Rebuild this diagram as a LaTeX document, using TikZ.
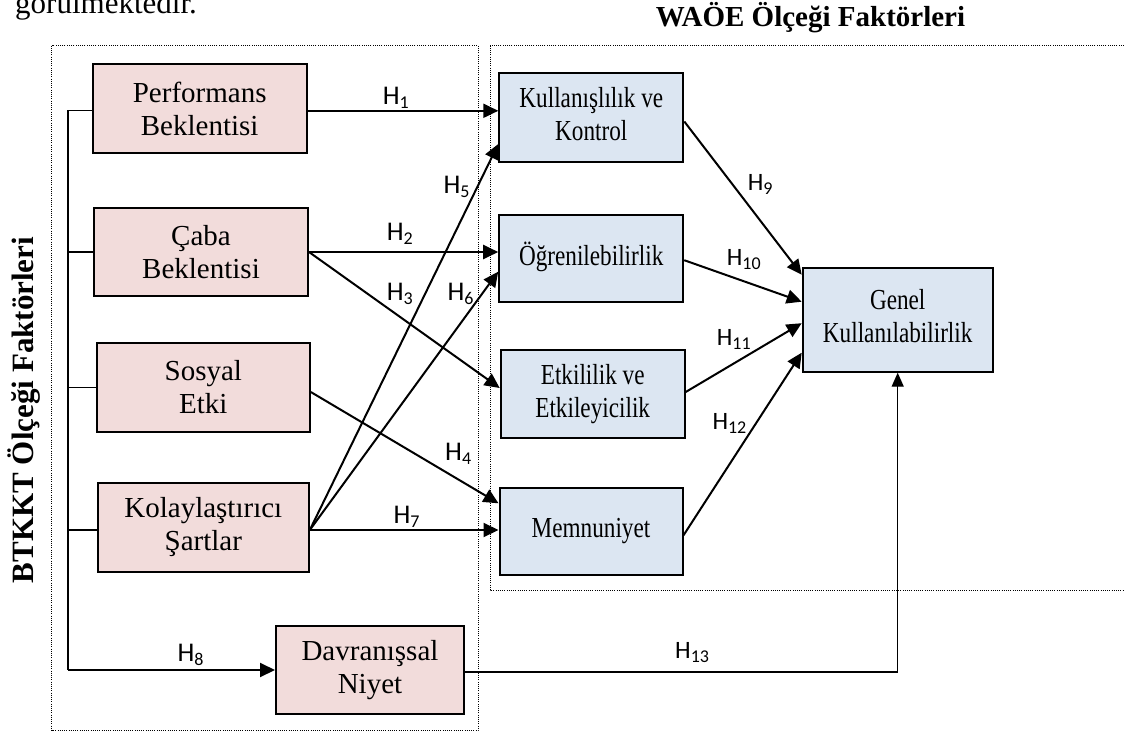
\documentclass[tikz,border=0pt]{standalone}
\usepackage{fontspec}
\usepackage{graphicx}
\setmainfont{Liberation Serif}
\newfontfamily\lblfont{Carlito}
\usetikzlibrary{arrows.meta}
\definecolor{pinkfill}{HTML}{F2DCDB}
\definecolor{bluefill}{HTML}{DCE6F2}
% hypothesis label H with a lowered index
\newcommand\hyp[1]{H\raisebox{-4pt}{\fontsize{18}{18}\selectfont #1}}
% horizontally condensed block of centred lines
\newcommand\cond[1]{\scalebox{0.8}[1]{\begin{tabular}{@{}c@{}}#1\end{tabular}}}
\begin{document}
\begin{tikzpicture}[x=1pt,y=-1pt,
  basebox/.style={draw, line width=2pt, inner sep=0pt, align=center,
    font=\fontsize{29}{33}\selectfont},
  lbox/.style={basebox, fill=pinkfill},
  rbox/.style={basebox, fill=bluefill},
  dotbox/.style={line width=1pt, dash pattern=on 1pt off 1.2pt},
  conn/.style={line width=2pt, -{Triangle[length=15pt,width=14pt]}},
  thinconn/.style={line width=1.4pt, -{Triangle[length=14pt,width=12pt]}},
  busline/.style={line width=1.4pt},
  lbl/.style={anchor=base west, inner sep=0pt, font=\lblfont\fontsize{27}{27}\selectfont},
  rlbl/.style={anchor=base west, inner sep=0pt, font=\lblfont\fontsize{25}{25}\selectfont}]
\useasboundingbox (0,0) rectangle (1124,733);

% running text above the figure
\node[anchor=base west, inner sep=0pt, font=\fontsize{31}{31}\selectfont] (runtext) at (15,14) {görülmektedir.};

% group frames
\draw[dotbox] (51.7,45.7) rectangle (478,730.7);
\draw[dotbox] (1124,46) -- (490,46) -- (490,590) -- (1124,590);

% group titles
\node[anchor=base, inner sep=0pt, font=\bfseries\fontsize{29}{29}\selectfont] (rtitle) at (810.5,27) {WAÖE Ölçeği Faktörleri};
\node[anchor=base, rotate=90, inner sep=0pt, font=\bfseries\fontsize{31}{31}\selectfont] (ltitle) at (33,410) {BTKKT Ölçeği Faktörleri};

% BTKKT factors
\node[lbox, minimum width=214pt, minimum height=89pt] (perf) at (199.7,108.8) {Performans\\Beklentisi};
\node[lbox, minimum width=214pt, minimum height=88pt] (caba) at (201,252) {Çaba\\Beklentisi};
\node[lbox, minimum width=213pt, minimum height=89pt] (sos) at (203.3,387.5) {Sosyal\\Etki};
\node[lbox, minimum width=211pt, minimum height=89pt] (kol) at (203.3,527.2) {Kolaylaştırıcı\\Şartlar};
\node[lbox, minimum width=188pt, minimum height=88pt] (dav) at (370,670) {Davranışsal\\Niyet};

% WAÖE factors
\node[rbox, minimum width=184pt, minimum height=88pt] (kull) at (591.3,117.5) {\cond{Kullanışlılık ve\\Kontrol}};
\node[rbox, minimum width=184pt, minimum height=87pt] (ogr) at (591.2,258.7) {\cond{Öğrenilebilirlik}};
\node[rbox, minimum width=184pt, minimum height=88pt] (etk) at (592.7,394) {\cond{Etkililik ve\\Etkileyicilik}};
\node[rbox, minimum width=183pt, minimum height=87pt] (mem) at (591,531.3) {\cond{Memnuniyet}};
\node[rbox, minimum width=190pt, minimum height=104pt] (gen) at (897.7,319.7) {\cond{Genel\\Kullanılabilirlik}};

% common bus on the left
\coordinate (bus) at (68,0);
\draw[busline] ([yshift=-2pt]perf.west) -- ([yshift=-2pt]perf.west -| bus) -- (dav.west -| bus);
\draw[busline] (caba.west) -- (caba.west -| bus);
\draw[busline] (sos.west) -- (sos.west -| bus);
\draw[busline] ([yshift=-2.8pt]kol.west) -- ([yshift=-2.8pt]kol.west -| bus);
\draw[conn] (dav.west -| bus) -- (dav.west);

% paths into the WAÖE factors
\draw[conn] ([yshift=-2pt]perf.east) -- ([yshift=-2pt]perf.east -| kull.west);
\draw[conn] (caba.east) -- (caba.east -| ogr.west);
\draw[conn] (caba.east) -- ([yshift=6pt]etk.west);
\draw[conn] ([yshift=-4.5pt]sos.east) -- ([yshift=28pt]mem.west);
\draw[conn] ([yshift=-2.8pt]kol.east) -- ([yshift=-26.5pt]kull.west);
\draw[conn] ([yshift=-2.8pt]kol.east) -- ([yshift=-13pt]ogr.west);
\draw[conn] ([yshift=-2.8pt]kol.east) -- ([yshift=-2.8pt]kol.east -| mem.west);

% paths into overall usability
\draw[conn] ([yshift=-4pt]kull.east) -- ([yshift=45pt]gen.west);
\draw[conn] ([yshift=-1.5pt]ogr.east) -- ([yshift=18pt]gen.west);
\draw[conn] ([yshift=2pt]etk.east) -- ([yshift=-3.5pt]gen.west);
\draw[conn] ([yshift=-4pt]mem.east) -- ([yshift=-33pt]gen.west);
\draw[thinconn] ([yshift=-2pt]dav.east) -| (gen.south);

% hypothesis labels
\node[lbl] (h1) at (382.7,104.3) {\hyp{1}};
\node[lbl] (h2) at (386.7,240) {\hyp{2}};
\node[lbl] (h3) at (386.7,300) {\hyp{3}};
\node[lbl] (h4) at (445,460) {\hyp{4}};
\node[lbl] (h5) at (443.3,193.3) {\hyp{5}};
\node[lbl] (h6) at (447.3,300) {\hyp{6}};
\node[lbl] (h7) at (393.3,523.3) {\hyp{7}};
\node[lbl] (h8) at (177.3,661.7) {\hyp{8}};
\node[rlbl] (h9) at (747.7,190) {\hyp{9}};
\node[rlbl] (h10) at (726.7,265) {\hyp{10}};
\node[rlbl] (h11) at (716.7,345) {\hyp{11}};
\node[rlbl] (h12) at (712.3,429.3) {\hyp{12}};
\node[rlbl] (h13) at (675,658.3) {\hyp{13}};
\end{tikzpicture}
\end{document}
